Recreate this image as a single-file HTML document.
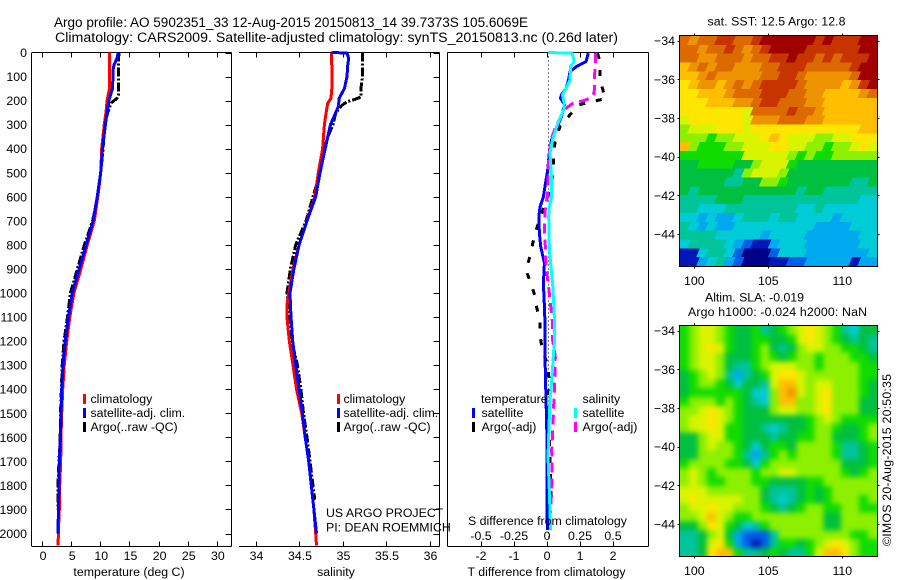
<!DOCTYPE html>
<html>
<head>
<meta charset="utf-8">
<title>Argo profile</title>
<style>
html,body{margin:0;padding:0;background:#fff;}
svg{display:block;font-family:"Liberation Sans",sans-serif;font-size:12.35px;fill:#000;}
</style>
</head>
<body>
<svg id="chart" width="900" height="580" viewBox="0 0 900 580" xmlns="http://www.w3.org/2000/svg">
  <defs>
    <filter id="soft" filterUnits="userSpaceOnUse" x="640" y="290" width="260" height="290" color-interpolation-filters="sRGB"><feGaussianBlur stdDeviation="2.6"/></filter>
    <clipPath id="clipA"><rect x="680" y="36" width="197" height="230"/></clipPath>
    <clipPath id="clipB"><rect x="680" y="326" width="197" height="231"/></clipPath>
  </defs>
  <rect x="0" y="0" width="900" height="580" fill="#fff"/>
  <text x="54" y="27" font-size="13.5" textLength="474" lengthAdjust="spacingAndGlyphs">Argo profile: AO 5902351_33 12-Aug-2015 20150813_14 39.7373S 105.6069E</text>
  <text x="55" y="42" font-size="13.5" textLength="563" lengthAdjust="spacingAndGlyphs">Climatology: CARS2009. Satellite-adjusted climatology: synTS_20150813.nc (0.26d later)</text>

  <g id="heatA" clip-path="url(#clipA)"></g>
  <g clip-path="url(#clipB)"><g id="heatB" filter="url(#soft)"></g></g>
  <g id="axes"></g>
  <g id="series"></g>

  <text x="129" y="576" text-anchor="middle">temperature (deg C)</text>
  <text x="336" y="576" text-anchor="middle">salinity</text>
  <text x="546.5" y="576" text-anchor="middle">T difference from climatology</text>
  <text x="547.5" y="525" text-anchor="middle">S difference from climatology</text>

  <g>
    <rect x="83" y="394" width="3" height="10" fill="#f00"/>
    <text x="90.5" y="403">climatology</text>
    <rect x="83" y="408" width="3" height="10" fill="#00f"/>
    <text x="90.5" y="417">satellite-adj. clim.</text>
    <rect x="83" y="422" width="3" height="10" fill="#000"/>
    <text x="90.5" y="431">Argo(..raw -QC)</text>
  </g>
  <g>
    <rect x="337" y="394" width="3" height="10" fill="#f00"/>
    <text x="343.5" y="403">climatology</text>
    <rect x="337" y="408" width="3" height="10" fill="#00f"/>
    <text x="343.5" y="417">satellite-adj. clim.</text>
    <rect x="337" y="422" width="3" height="10" fill="#000"/>
    <text x="343.5" y="431">Argo(..raw -QC)</text>
  </g>
  <g>
    <text x="481" y="403">temperature</text>
    <rect x="472" y="408" width="3" height="10" fill="#00f"/>
    <text x="481.5" y="417">satellite</text>
    <rect x="472" y="422" width="3" height="10" fill="#000"/>
    <text x="481.5" y="431">Argo(-adj)</text>
    <text x="582.5" y="403">salinity</text>
    <rect x="574" y="408" width="3" height="10" fill="#0ff"/>
    <text x="582.5" y="417">satellite</text>
    <rect x="574" y="422" width="3" height="10" fill="#f0f"/>
    <text x="582.5" y="431">Argo(-adj)</text>
  </g>
  <text x="326" y="517">US ARGO PROJECT</text>
  <text x="326" y="531.5">PI: DEAN ROEMMICH</text>

  <text x="707.5" y="25.5" textLength="138" lengthAdjust="spacing">sat. SST: 12.5 Argo: 12.8</text>
  <text x="705" y="301.5" textLength="99" lengthAdjust="spacing">Altim. SLA: -0.019</text>
  <text x="688" y="316" textLength="179" lengthAdjust="spacing">Argo h1000: -0.024 h2000: NaN</text>
  <text transform="translate(891,546) rotate(-90)" textLength="172" lengthAdjust="spacing">©IMOS 20-Aug-2015 20:50:35</text>
</svg>
<script>
// ---- profile data ----
var depthTicks = [0,100,200,300,400,500,600,700,800,900,1000,1100,1200,1300,1400,1500,1600,1700,1800,1900,2000];
var tempTicks = [0,5,10,15,20,25,30];
var salTicks = [34,34.5,35,35.5,36];
var tDiffTicks = [-2,-1,0,1,2];
var sDiffTicks = [-0.5,-0.25,0,0.25,0.5];
var lonTicks = [100,105,110];
var latTicks = [-34,-36,-38,-40,-42,-44];

var profDepth = [0,100,150,200,250,300,400,500,600,700,800,900,1000,1100,1200,1300,1400,1500,1600,1700,1800,1900,2000,2050];
var tempClim = [11.4,11.4,11.4,11.0,10.8,10.5,10.07,9.9,9.4,8.8,7.6,6.5,5.3,4.6,4.06,3.66,3.38,3.2,3.09,3.03,2.86,2.8,2.63,2.6];

var tempSatDepth = [0,25,50,75,100,150,175,200,250,300,400,500,600,700,800,900,1000,1100,1200,1300,1400,1500,1600,1700,1800,1900,2000];
var tempSat = [12.9,12.7,12.2,12.0,12.0,11.9,11.6,11.3,11.0,10.7,10.2,9.9,9.3,8.6,7.4,6.2,5.0,4.35,3.83,3.43,3.2,3.1,3.0,2.8,2.77,2.63,2.6];

var tempArgoDepth = [0,100,175,190,210,250,300,400,500,600,700,800,900,950,1000,1100,1200,1300,1400,1500,1600,1700,1800,1900];
var tempArgo = [13.0,12.95,12.95,12.7,11.7,11.1,10.6,10.3,9.9,9.4,8.5,7.1,5.9,5.3,4.7,4.2,3.6,3.3,3.15,3.0,2.95,2.75,2.55,2.55];

var salClimDepth = [0,100,150,190,210,250,300,400,500,600,700,800,900,1000,1050,1100,1200,1300,1400,1500,1600,1700,1800,1900,2000,2050];
var salClim = [34.86,34.87,34.865,34.856,34.82,34.80,34.78,34.76,34.71,34.67,34.58,34.49,34.42,34.37,34.35,34.35,34.377,34.42,34.46,34.52,34.56,34.6,34.63,34.66,34.68,34.69];

var salSatDepth = [0,2,25,50,100,150,190,225,250,300,350,400,500,600,700,800,900,1000,1100,1200,1300,1400,1500,1600,1700,1800,1900,2000];
var salSat = [34.86,35.04,35.06,35.05,35.04,35.01,34.95,34.94,34.91,34.85,34.82,34.79,34.73,34.68,34.58,34.49,34.43,34.385,34.397,34.416,34.45,34.49,34.53,34.56,34.6,34.63,34.66,34.69];

var salArgoDepth = [0,100,150,185,195,205,220,250,300,350,400,500,600,700,800,900,1000,1100,1200,1300,1400,1500,1600,1700,1800,1860];
var salArgo = [35.22,35.22,35.2,35.2,35.13,35.04,34.98,34.91,34.88,34.82,34.78,34.73,34.65,34.57,34.45,34.39,34.35,34.38,34.405,34.47,34.51,34.54,34.58,34.615,34.65,34.67];

var dTSatDepth = [3,38,58,79,114,149,176,190,218,266,308,363,419,488,530,599,641,682,752,807,876,959,1056,1126,1265,1445,1542,1680,1986];
var dTSat = [1.22,1.15,0.87,0.67,0.62,0.55,0.41,0.38,0.5,0.41,0.28,0.11,0.04,-0.01,-0.06,-0.14,-0.24,-0.28,-0.26,-0.22,-0.11,-0.14,-0.11,-0.09,-0.09,-0.06,-0.04,-0.03,-0.02];

var dTArgoDepth = [3,38,114,163,190,204,218,259,308,377,440,502,558,599,668,738,793,849,904,959,1015,1050,1119,1181,1236,1298,1374,1445,1680,1860];
var dTArgo = [1.5,1.58,1.58,1.68,1.76,1.37,0.92,0.67,0.36,0.21,0.16,0.16,0.06,0,-0.19,-0.36,-0.46,-0.55,-0.67,-0.52,-0.39,-0.36,-0.24,-0.24,-0.17,-0.01,0.04,0.01,0.06,0.09];

var dSSatDepth = [0,3,17,38,58,79,114,149,176,204,238,266,308,363,419,488,530,599,641,682,752,807,876,959,1056,1126,1195,1265,1348,1445,1542,1680,1819,1986];
var dSSat = [0,0.18,0.19,0.2,0.17,0.17,0.167,0.136,0.11,0.12,0.12,0.096,0.066,0.033,0.015,0.023,0.028,0.028,0.01,0.005,0.008,0.01,0.02,0.035,0.045,0.05,0.05,0.04,0.03,0.015,0.008,0,0.01,0.02];

var dSArgoDepth = [3,45,86,169,190,200,211,232,266,308,363,419,488,544,599,641,696,752,807,862,931,1000,1029,1126,1195,1265,1320,1376,1445,1514,1583,1652,1722,1777,1846,1915];
var dSArgo = [0.36,0.36,0.354,0.35,0.32,0.27,0.19,0.136,0.1,0.058,0.023,0.01,0,0,-0.005,-0.02,-0.025,-0.028,-0.02,-0.018,-0.005,0.01,0.015,0.035,0.035,0.055,0.053,0.05,0.045,0.04,0.035,0.028,0.03,0.03,0.025,0.02];

// ---- heatmap data: colour-level per cell, rows north to south ----
var levelColors = ["#000088","#0018b8","#0060e8","#00a8f0","#00ccd8","#00c49a","#00c040","#10dc00","#8cf000","#d8f400","#ffe600","#ffbe00","#ee9400","#dc6a00","#c83400","#a00000"];
var sstLevels = [
[13,12,13,13,14,14,13,13,14,15,15,15,15,15,15,14,15,14,14,14,15,15],
[13,13,12,13,13,14,13,12,13,14,15,15,15,15,14,14,14,14,14,14,15,15],
[13,13,12,12,13,13,13,12,13,13,14,14,15,14,14,13,14,13,14,14,14,15],
[11,12,13,12,13,13,12,12,12,13,13,14,14,14,13,13,13,13,13,14,15,15],
[11,11,12,13,12,12,12,12,12,13,13,14,14,13,12,12,12,12,12,13,15,15],
[10,11,12,12,11,12,13,12,13,14,14,14,14,13,12,12,12,12,11,12,14,15],
[10,10,11,11,11,12,13,13,13,14,14,14,13,13,12,12,11,11,11,11,12,13],
[10,10,10,11,11,11,12,12,13,14,14,13,13,13,12,12,11,11,11,11,11,11],
[10,10,10,10,10,10,10,9,13,13,13,13,14,13,13,12,11,11,11,11,11,11],
[9,10,10,10,10,10,10,9,12,12,12,13,13,13,12,12,11,11,11,11,11,11],
[8,9,9,9,10,10,10,9,10,10,10,10,10,10,10,10,10,10,10,10,11,11],
[8,8,8,7,8,8,9,9,9,10,11,10,9,9,9,8,8,9,9,10,10,10],
[11,8,7,7,7,8,8,9,9,9,10,10,9,9,8,8,7,8,8,9,10,9],
[7,7,7,7,7,7,7,9,9,9,9,9,8,7,8,7,7,8,8,8,8,8],
[6,6,7,7,7,7,6,6,8,9,9,9,7,6,6,6,6,6,6,6,6,6],
[6,6,6,6,6,6,5,8,9,9,9,8,6,6,6,6,6,6,6,6,6,6],
[6,6,6,6,6,5,5,6,6,8,8,7,6,6,6,6,6,6,6,5,5,6],
[6,5,6,6,6,6,6,6,6,6,6,6,6,5,6,6,5,5,5,5,5,5],
[5,5,5,5,6,6,6,5,5,5,5,5,5,5,5,5,5,5,5,5,4,4],
[5,5,4,4,4,5,5,5,5,5,5,5,5,4,4,5,4,4,4,4,4,4],
[4,4,3,4,3,3,4,5,5,5,4,5,5,4,4,4,4,3,4,4,4,4],
[5,4,3,4,3,3,4,4,4,4,4,4,4,4,4,3,3,3,3,4,4,4],
[5,5,5,5,4,4,4,4,4,3,4,4,4,4,3,3,3,3,3,3,4,4],
[4,5,5,5,5,4,3,2,1,1,3,4,4,4,3,3,3,3,3,3,4,4],
[1,1,4,5,5,4,2,0,0,0,2,4,4,4,3,3,3,3,3,3,3,4],
[1,1,3,4,5,3,2,0,0,0,1,1,2,2,3,3,3,3,3,1,3,3]
];
var slaLevels = [
[7,8,9,9,8,7,6,6,7,5,6,7,8,9,10,9,8,7,5,4,6,6],
[7,8,9,9,8,7,6,6,7,7,6,6,7,9,10,9,8,7,6,5,6,5],
[7,8,9,10,9,7,6,6,7,8,6,5,6,8,9,9,8,8,7,7,6,5],
[7,8,9,9,8,6,6,6,7,8,7,6,7,8,8,7,8,8,8,7,7,6],
[7,8,9,9,8,6,5,5,7,8,9,9,9,8,8,7,8,8,8,8,7,7],
[6,7,8,9,8,5,3,5,6,7,9,10,10,9,8,8,8,8,8,8,7,7],
[6,7,8,8,7,6,4,6,6,5,9,11,11,9,8,9,9,8,8,8,7,6],
[6,7,7,7,7,7,7,6,4,4,8,11,12,9,8,9,10,8,8,8,7,6],
[7,8,8,8,7,8,7,6,5,4,8,11,11,8,8,9,10,8,8,8,6,6],
[8,8,9,10,9,8,7,6,6,6,8,9,9,8,8,9,10,8,8,8,6,6],
[8,9,9,10,9,8,7,6,6,6,6,6,6,6,7,8,9,8,7,7,7,7],
[8,9,9,10,9,7,7,6,6,5,4,5,6,6,7,8,8,7,6,6,7,8],
[6,6,8,9,9,7,7,6,6,6,5,6,6,7,7,8,8,6,6,6,7,8],
[6,6,8,9,8,8,7,6,4,6,7,7,6,8,8,8,8,7,5,5,6,7],
[6,6,8,8,8,8,7,5,3,5,7,8,7,8,8,8,8,7,5,5,6,7],
[7,8,8,8,8,7,7,6,4,7,8,8,8,8,8,8,8,8,6,6,6,7],
[8,9,8,7,8,8,8,8,7,8,8,9,9,8,8,8,8,8,7,6,7,8],
[8,9,8,7,7,8,8,8,7,7,6,6,6,6,7,7,8,8,8,8,8,8],
[9,9,9,8,8,8,8,8,8,6,5,5,5,6,7,6,7,8,8,8,8,8],
[9,10,9,9,9,9,9,8,8,6,5,4,5,6,7,6,7,8,8,8,7,8],
[8,9,9,10,9,9,8,8,8,7,6,5,6,7,8,8,7,7,8,8,7,7],
[8,8,9,11,9,8,7,7,8,8,8,8,8,8,8,8,6,6,8,8,8,8],
[6,6,8,10,9,7,6,4,5,7,8,8,8,8,8,8,6,6,8,8,8,8],
[5,5,6,8,9,6,3,2,2,2,5,8,8,8,8,8,8,8,8,7,7,8],
[5,5,6,9,10,7,3,2,1,2,5,7,7,6,7,8,9,10,9,8,7,7],
[5,5,6,10,11,11,7,5,5,6,7,6,5,5,7,9,11,11,10,8,7,7]
];

// ---- axis functions ----
function depthY(d){ return 52.5 + d * 0.2405; }
function tempX(t){ return 43 + t * 5.83; }
function salX(s){ return 256.5 + (s - 34) * 87; }
function dTX(v){ return 548 + v * 33; }
function dSX(v){ return 548 + v * 132; }
function lonX(l){ return 694.3 + (l - 100) * 14.8; }
function latYA(l){ return 40.7 + (-34 - l) * 19.32; }
function latYB(l){ return 330.7 + (-34 - l) * 19.32; }

var NS = "http://www.w3.org/2000/svg";
function mk(tag, attrs, name, parent){
  var el = document.createElementNS(NS, tag);
  for (var k in attrs) el.setAttribute(k, attrs[k]);
  
  
  parent.appendChild(el);
  return el;
}
function line(x1,y1,x2,y2,name,parent){
  return mk('line',{x1:x1,y1:y1,x2:x2,y2:y2,stroke:'#000','stroke-width':1,'shape-rendering':'crispEdges'},name,parent);
}
function label(x,y,str,anchor,name,parent){
  var t = mk('text',{x:x,y:y,'text-anchor':anchor},name,parent);
  t.textContent = str;
  return t;
}

var axes = document.getElementById('axes');
var series = document.getElementById('series');
var TOP = 52.5, BOT = 546.5;

// frames
line(32,TOP,231.5,TOP,'temperature-top-axis',axes);
line(31.5,TOP,31.5,BOT,'depth-axis',axes);
line(231.5,TOP,231.5,BOT,'temperature-right-axis',axes);
line(32,BOT,231.5,BOT,'temperature-bottom-axis',axes);
line(239,TOP,439.5,TOP,'salinity-top-axis',axes);
line(439.5,TOP,439.5,BOT,'salinity-right-axis',axes);
line(239,BOT,439.5,BOT,'salinity-bottom-axis',axes);
line(447.5,TOP,648.5,TOP,'difference-top-axis',axes);
line(447.5,TOP,447.5,BOT,'difference-left-axis',axes);
line(648.5,TOP,648.5,BOT,'difference-right-axis',axes);
line(447.5,BOT,648.5,BOT,'difference-bottom-axis',axes);

// depth ticks
depthTicks.forEach(function(d){
  var y = Math.round(depthY(d)) + 0.5;
  line(225.5,y,231.5,y,'depth-tick',axes);
  line(433.5,y,439.5,y,'depth-tick-salinity',axes);
  label(27,depthY(d)+4.5,String(d),'end','depth-tick-label',axes);
});
tempTicks.forEach(function(t){
  var x = Math.round(tempX(t)) - 0.5;
  line(x,TOP,x,TOP+5,'temperature-top-tick',axes);
  line(x,BOT,x,BOT-5,'temperature-bottom-tick',axes);
  label(tempX(t),560,String(t),'middle','temperature-tick-label',axes);
});
salTicks.forEach(function(s){
  var x = Math.round(salX(s)) - 0.5;
  line(x,TOP,x,TOP+5,'salinity-top-tick',axes);
  line(x,BOT,x,BOT-5,'salinity-bottom-tick',axes);
  label(salX(s),560,String(s),'middle','salinity-tick-label',axes);
});
tDiffTicks.forEach(function(v){
  var x = Math.round(dTX(v)) - 0.5;
  line(x,TOP,x,TOP+5,'t-difference-top-tick',axes);
  line(x,BOT,x,BOT-5,'t-difference-bottom-tick',axes);
  label(dTX(v)-1,560,String(v),'middle','t-difference-tick-label',axes);
});
sDiffTicks.forEach(function(v){
  label(dSX(v)-1,540,String(v),'middle','s-difference-tick-label',axes);
});
mk('line',{x1:548.5,y1:TOP,x2:548.5,y2:BOT-6,stroke:'#000','stroke-width':1,'stroke-dasharray':'1 3','shape-rendering':'crispEdges'},'zero-reference-line',axes);

// series
function drawSeries(depths, values, xFn, color, width, dash, name){
  var pts = [];
  for (var i = 0; i < depths.length; i++) {
    pts.push(xFn(values[i]).toFixed(1) + ',' + depthY(depths[i]).toFixed(1));
  }
  var attrs = {points:pts.join(' '),fill:'none',stroke:color,'stroke-width':width,'shape-rendering':'crispEdges','stroke-linejoin':'bevel'};
  if (dash) attrs['stroke-dasharray'] = dash;
  return mk('polyline',attrs,name,series);
}
drawSeries(tempArgoDepth,tempArgo,tempX,'#000',3,'9 2 2 2','temperature-argo-line');
drawSeries(profDepth,tempClim,tempX,'#f00',3,null,'temperature-climatology-line');
drawSeries(tempSatDepth,tempSat,tempX,'#00f',3,null,'temperature-satellite-line');

drawSeries(salArgoDepth,salArgo,salX,'#000',3,'9 2 2 2','salinity-argo-line');
drawSeries(salClimDepth,salClim,salX,'#f00',3,null,'salinity-climatology-line');
drawSeries(salSatDepth,salSat,salX,'#00f',3,null,'salinity-satellite-line');

drawSeries(dTArgoDepth,dTArgo,dTX,'#000',3,'6 11','t-difference-argo-line');
drawSeries(dTSatDepth,dTSat,dTX,'#00f',3,null,'t-difference-satellite-line');
drawSeries(dSArgoDepth,dSArgo,dSX,'#f0f',3,'10 6','s-difference-argo-line');
drawSeries(dSSatDepth,dSSat,dSX,'#0ff',3,null,'s-difference-satellite-line');

// heatmaps: lean is the horizontal shear of each cell, giving the diagonal grain of the source grid
function drawHeat(levels, parent, x0, y0, w, h, pad, lean, name){
  var rows = levels.length, cols = levels[0].length;
  var cw = w / cols, ch = h / rows;
  for (var r = -pad; r < rows + pad; r++) {
    for (var c = -pad; c < cols + pad; c++) {
      var rr = Math.max(0, Math.min(rows - 1, r));
      var cc = Math.max(0, Math.min(cols - 1, c));
      var x = x0 + c * cw - lean / 2, y = y0 + r * ch;
      var pts = [
        [x, y + ch + 0.6], [x + cw + 0.6, y + ch + 0.6],
        [x + cw + 0.6 + lean, y], [x + lean, y]
      ].map(function(p){ return p[0].toFixed(2) + ',' + p[1].toFixed(2); }).join(' ');
      mk('polygon',{points:pts,fill:levelColors[levels[rr][cc]],'shape-rendering':'crispEdges'},name,parent);
    }
  }
}
drawHeat(sstLevels,document.getElementById('heatA'),680,36,197,230,1,4,'sst-cell');
drawHeat(slaLevels,document.getElementById('heatB'),680,326,197,231,2,0,'sla-cell');

// map frames & ticks
function mapFrame(top, bottom, latFn, lonLabelY, prefix){
  mk('rect',{x:679.5,y:top,width:198,height:bottom-top,fill:'none',stroke:'#000','stroke-width':1,'shape-rendering':'crispEdges'},prefix+'-map-frame',axes);
  lonTicks.forEach(function(l){
    var x = Math.round(lonX(l)) + 0.5;
    line(x,top-2,x,top,prefix+'-lon-top-tick',axes);
    line(x,bottom,x,bottom+2,prefix+'-lon-bottom-tick',axes);
    label(lonX(l),lonLabelY,String(l),'middle',prefix+'-lon-tick-label',axes);
  });
  latTicks.forEach(function(l){
    var y = Math.round(latFn(l)) + 0.5;
    line(677.5,y,679.5,y,prefix+'-lat-left-tick',axes);
    line(877.5,y,879.5,y,prefix+'-lat-right-tick',axes);
    label(675,latFn(l)+4.5,'\u2212'+Math.abs(l),'end',prefix+'-lat-tick-label',axes);
  });
}
mapFrame(35.5,266.5,latYA,285,'sst');
mapFrame(325.5,556.5,latYB,575,'sla');
</script>
</body>
</html>
